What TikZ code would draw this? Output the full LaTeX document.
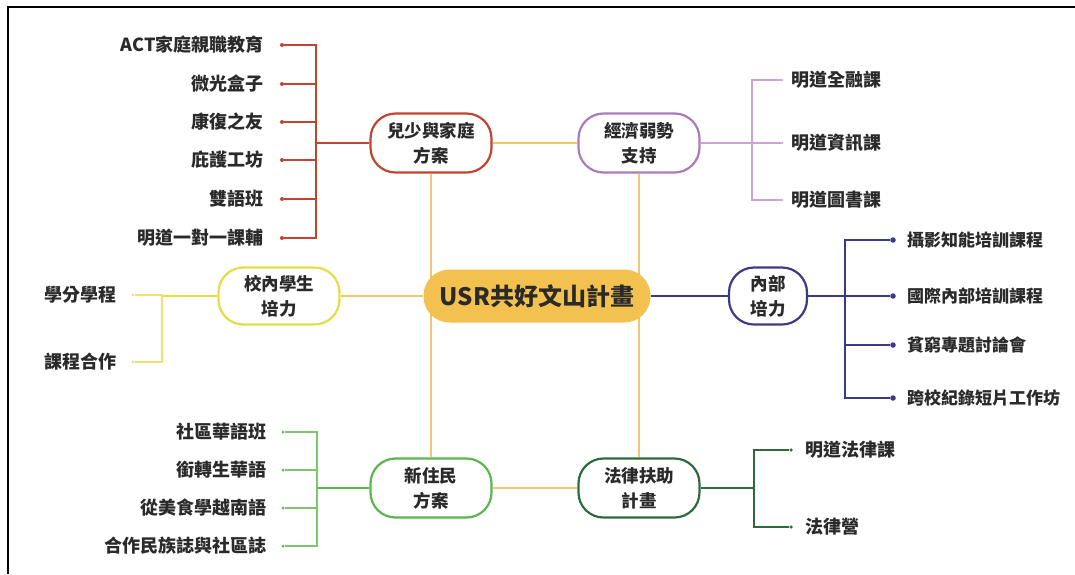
\documentclass[tikz,border=0pt]{standalone}
\usepackage{fontspec}
\setmainfont{Noto Sans CJK TC}
\definecolor{cRed}{HTML}{BF4530}
\definecolor{cYel}{HTML}{F1C76B}
\definecolor{cLemon}{HTML}{E6DC45}
\definecolor{cLemonL}{HTML}{ECE270}
\definecolor{cPurp}{HTML}{A97CB9}
\definecolor{cPurpL}{HTML}{C9A3D3}
\definecolor{cNavy}{HTML}{3D3A85}
\definecolor{cGreen}{HTML}{5DB552}
\definecolor{cGreenL}{HTML}{7CC66F}
\definecolor{cDkGreen}{HTML}{2E6A3C}
\definecolor{cCenter}{HTML}{F3C14F}
\definecolor{cText}{HTML}{2A2A2A}
\begin{document}
\begin{tikzpicture}[x=1pt,y=-1pt,
  hub/.style={draw, line width=2.2pt, rounded corners=25pt, minimum height=59pt,
    minimum width=121pt, align=center, inner sep=0pt, fill=white, text=cText,
    font=\fontsize{17.5}{25}\bfseries},
  core/.style={fill=cCenter, rounded corners=26pt, minimum height=53pt,
    minimum width=227pt, inner sep=0pt, text=cText, font=\fontsize{24}{28}\bfseries},
  leaf/.style={inner sep=0pt, text=cText, font=\fontsize{18}{20}\bfseries},
  smallleaf/.style={inner sep=0pt, text=cText, font=\fontsize{17}{20}\bfseries},
  pip/.style={circle, fill, inner sep=0pt, minimum size=4pt},
  bigpip/.style={circle, fill, inner sep=0pt, minimum size=5.5pt},
  yline/.style={cYel, line width=2.5pt},
  redl/.style={cRed, line width=2.2pt},
  purpl/.style={cPurpL, line width=1.4pt},
  navyl/.style={cNavy, line width=2.4pt},
  lemonl/.style={cLemonL, line width=1.4pt},
  lemonm/.style={cLemon, line width=2pt},
  greenl/.style={cGreenL, line width=1.4pt},
  greenm/.style={cGreen, line width=2pt},
  dkgl/.style={cDkGreen, line width=2.2pt},
  frame/.style={black, line width=2.2pt}
]
\useasboundingbox (0,0) rectangle (1075,574);
\fill[white] (0,0) rectangle (1075,574);
\draw[frame] (8,574) -- (8,7) -- (1075,7);

% main hubs
\node[hub, draw=cRed] (kid) at (431,143) {兒少與家庭\\方案};
\node[hub, draw=cPurp] (econ) at (639,143) {經濟弱勢\\支持};
\node[hub, draw=cLemon, minimum height=57pt] (camp) at (279,296) {校內學生\\培力};
\node[hub, draw=cNavy, minimum width=78pt, minimum height=57pt] (inner) at (768,296) {內部\\培力};
\node[hub, draw=cGreen] (newres) at (431,488) {新住民\\方案};
\node[hub, draw=cDkGreen] (law) at (639,488) {法律扶助\\計畫};

% yellow frame lines
\draw[yline] (kid.south) -- (newres.north);
\draw[yline] (econ.south) -- (law.north);
\draw[yline] (kid.east) -- (econ.west);
\draw[yline] (newres.east) -- (law.west);

\node[core] (usr) at (537,296) {USR共好文山計畫};
\draw[yline] (camp.east) -- (usr.west);
\draw[navyl] (usr.east) -- (inner.west);

% red branch
\coordinate (rb) at (316,143);
\draw[redl] (kid.west) -- (rb);
\foreach \i/\y/\t in {1/45/ACT家庭親職教育, 2/84/微光盒子, 3/122/康復之友, 4/160/庇護工坊, 5/199/雙語班, 6/238/明道一對一課輔}{
  \node[leaf, anchor=east] (r\i) at (264,\y) {\t};
  \node[pip, cRed] (r\i d) at (282,\y) {};
  \draw[redl] (r\i d) -| (rb);
}

% purple branch
\coordinate (pb) at (752,143);
\draw[purpl] (econ.east) -- (pb);
\foreach \i/\y/\t in {1/80/明道全融課, 2/143/明道資訊課, 3/200/明道圖書課}{
  \node[leaf, anchor=west] (p\i) at (791,\y) {\t};
  \node[pip, cPurpL, minimum size=2.5pt] (p\i d) at (782,\y) {};
  \draw[purpl] (p\i d) -| (pb);
}

% navy branch
\coordinate (nb) at (845,296);
\draw[navyl] (inner.east) -- (nb);
\foreach \i/\y/\t in {1/240/攝影知能培訓課程, 2/296/國際內部培訓課程, 3/345/貧窮專題討論會, 4/398/跨校紀錄短片工作坊}{
  \node[smallleaf, anchor=west] (n\i) at (907,\y) {\t};
  \node[bigpip, cNavy] (n\i d) at (893,\y) {};
  \draw[navyl] (n\i d) -| (nb);
}

% lemon branch
\coordinate (lb) at (162,296);
\draw[lemonm] (camp.west) -- (lb);
\foreach \i/\y/\t in {1/295/學分學程, 2/362/課程合作}{
  \node[leaf, anchor=west] (l\i) at (44,\y) {\t};
  \node[pip, cLemonL, minimum size=3pt] (l\i d) at (133,\y) {};
  \draw[lemonl] (l\i d) -| (lb);
}

% green branch
\coordinate (gb) at (317,488);
\draw[greenm] (newres.west) -- (gb);
\foreach \i/\y/\t in {1/432/社區華語班, 2/470/銜轉生華語, 3/508/從美食學越南語, 4/546/合作民族誌與社區誌}{
  \node[leaf, anchor=east] (g\i) at (267,\y) {\t};
  \node[pip, cGreen, minimum size=3pt] (g\i d) at (283,\y) {};
  \draw[greenl] (g\i d) -| (gb);
}

% dark green branch
\coordinate (db) at (754,488);
\draw[dkgl] (law.east) -- (db);
\foreach \i/\y/\t in {1/450/明道法律課, 2/527/法律營}{
  \node[leaf, anchor=west] (d\i) at (805,\y) {\t};
  \node[pip, cDkGreen, minimum size=3.5pt] (d\i d) at (791,\y) {};
  \draw[dkgl] (d\i d) -| (db);
}
\end{tikzpicture}
\end{document}
